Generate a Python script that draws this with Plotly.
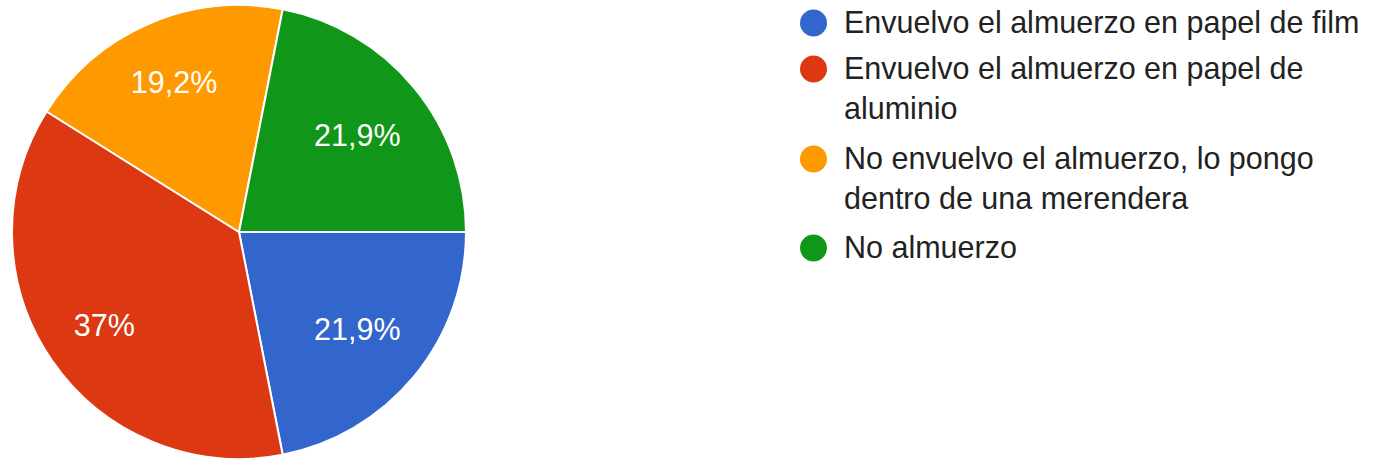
import plotly.graph_objects as go

# ---- data ----
categories = [
    "Envuelvo el almuerzo en papel de film",
    "Envuelvo el almuerzo en papel de aluminio",
    "No envuelvo el almuerzo, lo pongo dentro de una merendera",
    "No almuerzo",
]
legend_labels = [
    "Envuelvo el almuerzo en papel de film",
    "Envuelvo el almuerzo en papel de<br>aluminio",
    "No envuelvo el almuerzo, lo pongo<br>dentro de una merendera",
    "No almuerzo",
]
counts = [16, 27, 14, 16]
pct_labels = ["21,9%", "37%", "19,2%", "21,9%"]
colors = ["#3366cc", "#dc3912", "#ff9900", "#109618"]

W, H = 1377, 461
FONT = "Liberation Sans, Arial, sans-serif"
FS = 30.5
domain = dict(x=[12 / W, 466 / W], y=[1 - 459 / H, 1 - 5 / H])

fig = go.Figure()
fig.add_trace(go.Pie(
    labels=categories,
    values=counts,
    textinfo="none",
    sort=False,
    direction="clockwise",
    rotation=90,
    marker=dict(colors=colors, line=dict(color="white", width=2)),
    domain=domain,
    showlegend=False,
    hoverinfo="label+percent",
))

# transparent overlays that only carry the percentage labels
# (label radius differs slightly between the slices in the reference)
label_groups = [(0.35, [0, 3]), (0.44, [1, 2])]
for hole, idx in label_groups:
    txt = [t if i in idx else "" for i, t in enumerate(pct_labels)]
    fig.add_trace(go.Pie(
        labels=categories,
        values=counts,
        text=txt,
        textinfo="text",
        textposition="inside",
        insidetextorientation="horizontal",
        textfont=dict(family=FONT, size=FS, color="white"),
        sort=False,
        direction="clockwise",
        rotation=90,
        hole=hole,
        marker=dict(colors=["rgba(0,0,0,0)"] * len(counts), line=dict(width=0)),
        domain=domain,
        showlegend=False,
        hoverinfo="skip",
    ))

# custom legend (circle swatches + text)
first_line_y = [23, 69, 159, 248]  # pixel centres of first text line
shapes = []
annotations = []
for lab, col, ypx in zip(legend_labels, colors, first_line_y):
    yp = 1 - ypx / H
    shapes.append(dict(
        type="circle", xref="paper", yref="paper",
        xsizemode="pixel", ysizemode="pixel",
        xanchor=813.5 / W, yanchor=yp,
        x0=-13.5, x1=13.5, y0=-13.5, y1=13.5,
        fillcolor=col, line=dict(width=0),
    ))
    annotations.append(dict(
        xref="paper", yref="paper",
        x=842 / W, y=1 - (ypx - 20) / H,
        xanchor="left", yanchor="top",
        text=lab, showarrow=False, align="left",
        font=dict(family=FONT, size=FS, color="#222222"),
    ))

fig.update_layout(
    width=W, height=H,
    margin=dict(l=0, r=0, t=0, b=0),
    paper_bgcolor="white",
    plot_bgcolor="white",
    shapes=shapes,
    annotations=annotations,
)

fig.write_html(
    "out.html",
    config={"displayModeBar": False},
    post_script="document.body.style.margin='0px';",
)
